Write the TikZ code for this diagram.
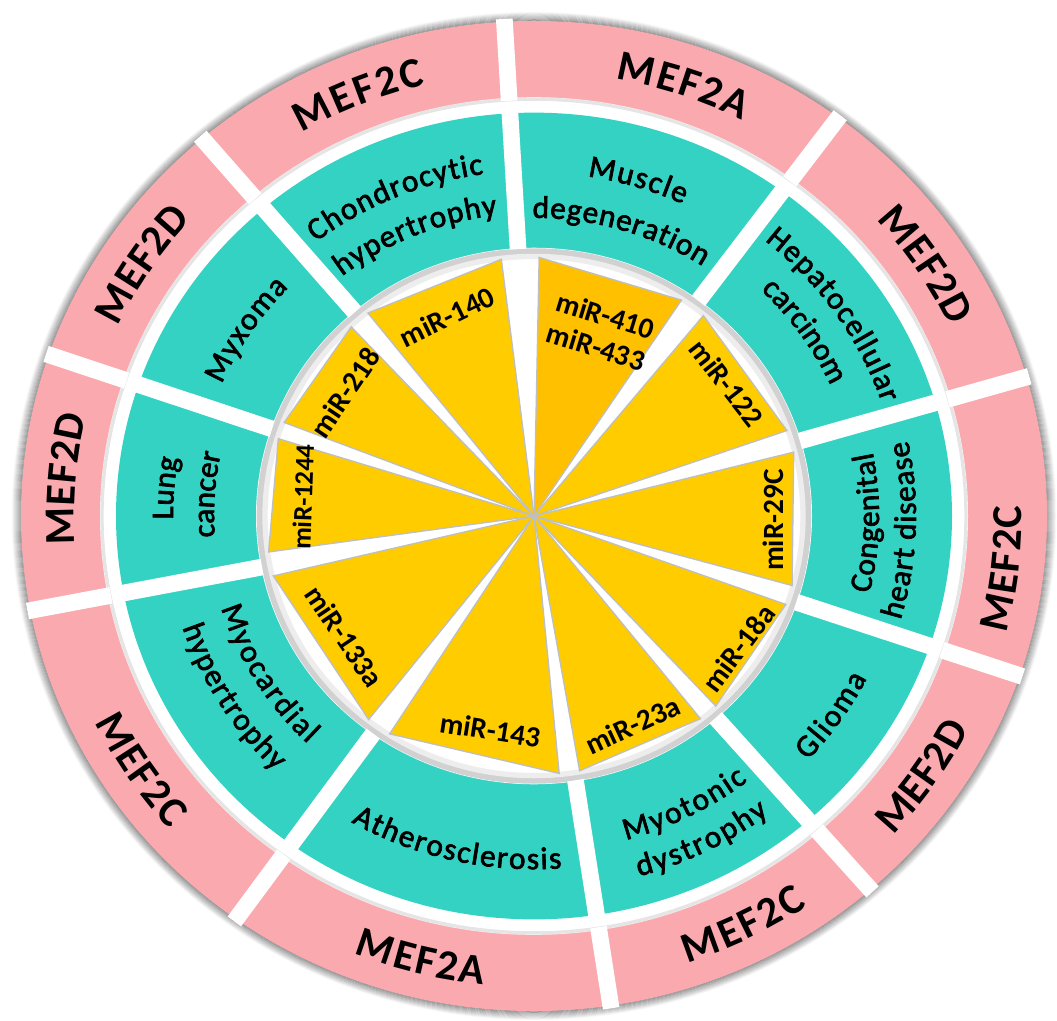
\documentclass[tikz,border=0pt]{standalone}
\usepackage{fontspec}
\setmainfont{Carlito}
\newfontfamily\disfam[FakeBold=2.2]{Carlito}
\usetikzlibrary{decorations.text}

\definecolor{mefpink}{RGB}{250,170,175}
\definecolor{disteal}{RGB}{52,210,195}
\definecolor{miryellow}{RGB}{255,204,0}
\definecolor{mirorange}{RGB}{255,192,0}

\newcommand{\meffont}{\fontsize{32}{36}\selectfont\bfseries}
\newcommand{\disfont}{\disfam\fontsize{23.5}{27}\selectfont}

% text on a ring arc: #1 mid angle, #2 baseline radius, #3 length, #4 font, #5 text
\newcommand{\cwtext}[5]{%
  \path[decorate,decoration={text along path,text align={fit to path},text={|#4|#5}}]
    ({#1+#3*28.648/#2}:#2) arc[start angle={#1+#3*28.648/#2},end angle={#1-#3*28.648/#2},radius=#2];}
\newcommand{\ccwtext}[5]{%
  \path[decorate,decoration={text along path,text align={fit to path},text={|#4|#5}}]
    ({#1-#3*28.648/#2}:#2) arc[start angle={#1-#3*28.648/#2},end angle={#1+#3*28.648/#2},radius=#2];}

\tikzset{every picture/.style={line width=0.75pt}}
\tikzset{
  mirtxt/.style={inner sep=0.75pt,font=\fontsize{22}{25}\selectfont\bfseries,align=center},
  mirwedge/.style={fill=miryellow,draw=black!25,line width=1pt},
  ringgap/.style={draw=white,line width=12.5pt},
}

\begin{document}
\begin{tikzpicture}[x=0.75pt,y=0.75pt,yscale=-1,xscale=1]
\useasboundingbox (0,0) rectangle (1057,1021);

% ring is a little squashed vertically
\begin{scope}[shift={(534,516)},yscale=-0.965]

% soft shadow round the outside
\foreach \i in {1,...,10}{
  \pgfmathsetmacro\op{0.42-0.04*\i}
  \draw[black,opacity=\op] (0,0) circle[radius=512+\i];
}

% rings
\fill[mefpink] (0,0) circle[radius=513];
\fill[white] (0,0) circle[radius=434];
\draw[black,opacity=0.10,line width=2.5pt] (0,0) circle[radius=432];
\fill[disteal] (0,0) circle[radius=418];
\fill[white] (0,0) circle[radius=278];
\draw[black!18,line width=5pt] (0,0) circle[radius=274];
\draw[black!7,line width=4pt] (0,0) circle[radius=269];

% gaps between sectors
\foreach \g in {16.3,53.6,93.3,130.3,161,191,234.5,278.6,311,341.2}{
  \draw[ringgap] (\g:277) -- (\g:421);
  \draw[ringgap] (\g:431) -- (\g:516);
}

% miRNA wedges
\filldraw[mirwedge,fill=mirorange] (0,0) -- (56.6:268) -- (88.9:268) -- cycle;
\foreach \a/\b in {97/128.3,133/158.8,162.6/188,193.4/231.9,237.4/275.4,279.8/308.4,312.7/340,344.4/374.3,19.3/50.8}
  \filldraw[mirwedge] (0,0) -- (\a:268) -- (\b:268) -- cycle;

% miRNA labels
\node[mirtxt,rotate=-17] (m410) at (70.8:203) {miR-410\\miR-433};
\node[mirtxt,rotate=26] (m140) at (112.9:224) {miR-140};
\node[mirtxt,rotate=56] (m218) at (145.9:228) {miR-218};
\node[mirtxt,rotate=88,font=\fontsize{20}{22}\selectfont\bfseries] (m1244) at (175.1:232) {miR-1244};
\node[mirtxt,rotate=-56] (m133) at (213.3:227) {miR-133a};
\node[mirtxt,rotate=-9] (m143) at (258.8:226) {miR-143};
\node[mirtxt,rotate=25] (m23) at (294.5:238) {miR-23a};
\node[mirtxt,rotate=53] (m18) at (326.2:246) {miR-18a};
\node[mirtxt,rotate=90] (m29) at (359:239) {miR-29C};
\node[mirtxt,rotate=-52] (m122) at (35.6:237) {miR-122};

% disease labels
\cwtext{73.3}{356}{100}{\disfont}{Muscle}
\cwtext{73.6}{309}{180}{\disfont}{degeneration}
\cwtext{112.8}{358}{184}{\disfont}{Chondrocytic}
\cwtext{112.2}{314}{170}{\disfont}{hypertrophy}
\cwtext{146.2}{341}{121}{\disfont}{Myxoma}
\cwtext{175.5}{361}{64}{\disfont}{Lung}
\cwtext{176.2}{320}{86}{\disfont}{cancer}
\ccwtext{211.6}{327}{167}{\disfont}{Myocardial}
\ccwtext{211.9}{370}{177}{\disfont}{hypertrophy}
\ccwtext{257.2}{366}{219}{\disfont}{Atherosclerosis}
\ccwtext{296.6}{348}{137}{\disfont}{Myotonic}
\ccwtext{296.5}{388}{146}{\disfont}{dystrophy}
\ccwtext{325.2}{373}{104}{\disfont}{Glioma}
\ccwtext{358.8}{345}{148}{\disfont}{Congenital}
\ccwtext{357.7}{382}{188}{\disfont}{heart disease}
\cwtext{34.8}{367}{208}{\disfont}{Hepatocellular}
\cwtext{35.2}{326}{122}{\disfont}{carcinom}

% MEF2 labels
\cwtext{71.4}{460}{134}{\meffont}{MEF2A}
\cwtext{112}{460}{134}{\meffont}{MEF2C}
\cwtext{146.4}{460}{134}{\meffont}{MEF2D}
\cwtext{175.3}{460}{134}{\meffont}{MEF2D}
\ccwtext{213.8}{488}{134}{\meffont}{MEF2C}
\ccwtext{256.2}{488}{134}{\meffont}{MEF2A}
\ccwtext{296.2}{488}{134}{\meffont}{MEF2C}
\ccwtext{325.2}{488}{134}{\meffont}{MEF2D}
\ccwtext{353.4}{488}{134}{\meffont}{MEF2C}
\cwtext{33.6}{460}{134}{\meffont}{MEF2D}

\end{scope}

\end{tikzpicture}
\end{document}
